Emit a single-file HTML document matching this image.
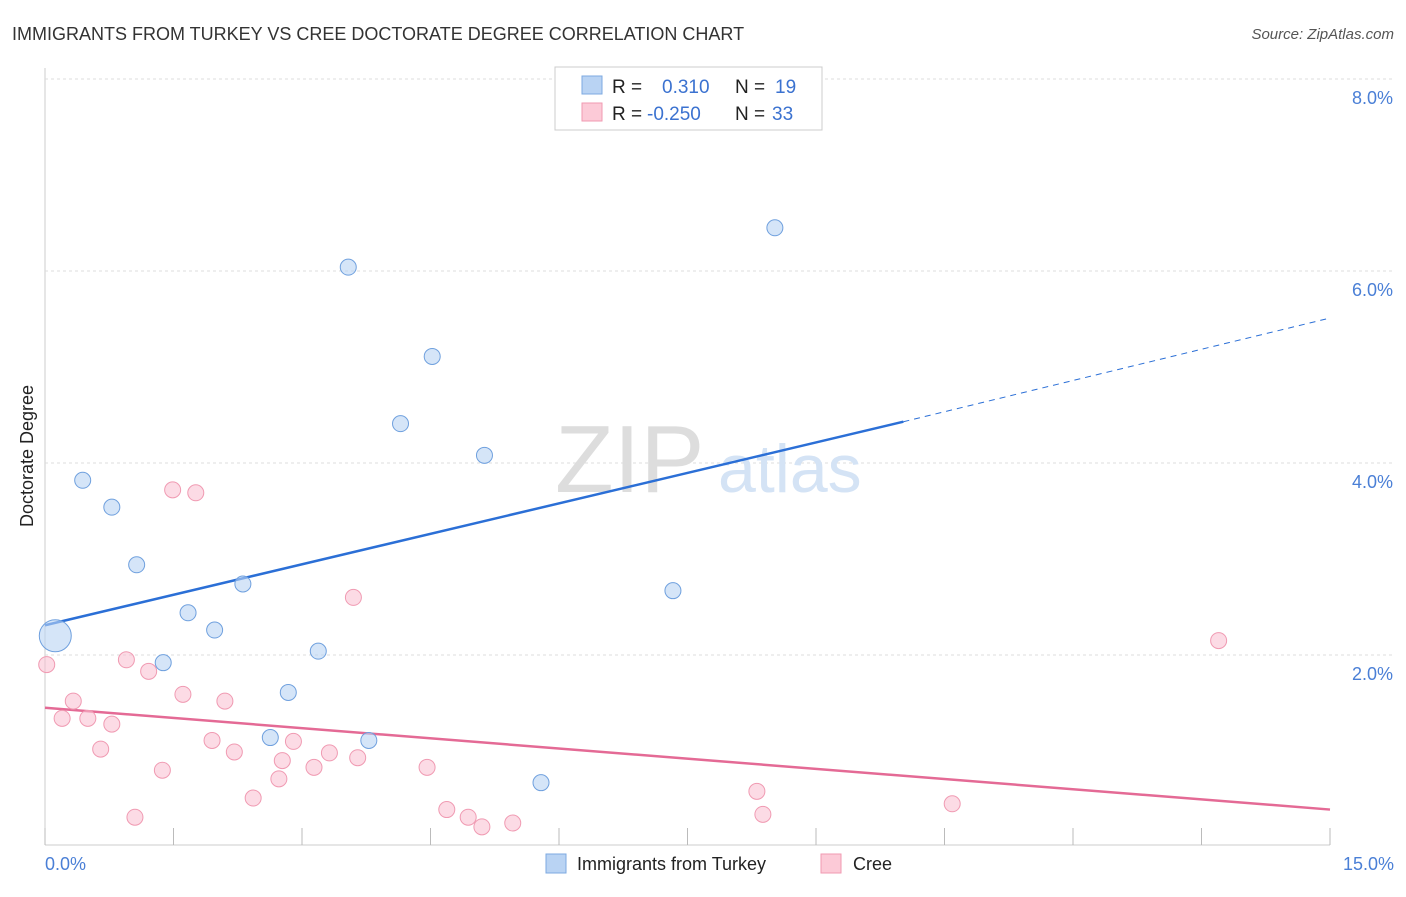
<!DOCTYPE html>
<html><head><meta charset="utf-8">
<style>
body{margin:0;background:#fff;font-family:"Liberation Sans",sans-serif;}
svg text{font-family:"Liberation Sans",sans-serif;}
</style></head>
<body>
<svg width="1406" height="892" viewBox="0 0 1406 892">
<text x="12" y="40" font-size="18" fill="#333">IMMIGRANTS FROM TURKEY VS CREE DOCTORATE DEGREE CORRELATION CHART</text>
<text x="1394" y="39" font-size="15" fill="#555" font-style="italic" text-anchor="end">Source: ZipAtlas.com</text>
<g id="grid"></g>
<text x="555" y="492" font-size="96" fill="#ddd" font-family="Liberation Serif">ZIP</text>
<text x="718" y="492" font-size="68" fill="#d4e3f5">atlas</text>
<g id="trend"></g>
<g id="pts"></g>
<text transform="translate(33,456) rotate(-90)" font-size="18" fill="#222" text-anchor="middle">Doctorate Degree</text>
<text x="45" y="870" font-size="18" fill="#4a7fd6">0.0%</text>
<text x="1394" y="870" font-size="18" fill="#4a7fd6" text-anchor="end">15.0%</text>
<g>
<rect x="555" y="67" width="267" height="63" fill="#fff" stroke="#ccc"/>
<rect x="582" y="76" width="20" height="18" fill="#b9d3f3" stroke="#7da9e0"/>
<rect x="582" y="103" width="20" height="18" fill="#fccad7" stroke="#f09ab2"/>
<text x="612" y="93" font-size="19" fill="#222">R =</text>
<text x="662" y="93" font-size="19" fill="#3b72d0">0.310</text>
<text x="735" y="93" font-size="19" fill="#222">N =</text>
<text x="775" y="93" font-size="19" fill="#3b72d0">19</text>
<text x="612" y="120" font-size="19" fill="#222">R =</text>
<text x="647" y="120" font-size="19" fill="#3b72d0">-0.250</text>
<text x="735" y="120" font-size="19" fill="#222">N =</text>
<text x="772" y="120" font-size="19" fill="#3b72d0">33</text>
</g>
<g>
<rect x="546" y="854" width="20" height="19" fill="#b9d3f3" stroke="#7da9e0"/>
<text x="577" y="870" font-size="18" fill="#222">Immigrants from Turkey</text>
<rect x="821" y="854" width="20" height="19" fill="#fccad7" stroke="#f09ab2"/>
<text x="853" y="870" font-size="18" fill="#222">Cree</text>
</g>
</svg>
<script>
const yTicks=[2,4,6,8];
const xTickCount=10;
const blueX=[0.12,0.44,0.78,1.07,1.67,1.98,1.38,2.31,2.84,2.63,3.19,3.54,3.78,4.15,4.52,5.13,5.79,7.33,8.52];
const blueY=[2.20,3.82,3.54,2.94,2.44,2.26,1.92,2.74,1.61,1.14,2.04,6.04,1.11,4.41,5.11,4.08,0.67,2.67,6.45];
const blueR=[16,8,8,8,8,8,8,8,8,8,8,8,8,8,8,8,8,8,8];
const pinkX=[0.02,0.20,0.33,0.50,0.65,0.78,0.95,1.05,1.21,1.37,1.49,1.61,1.76,1.95,2.10,2.21,2.43,2.73,2.77,2.90,3.14,3.32,3.60,3.65,4.46,4.69,4.94,5.10,5.46,8.31,8.38,10.59,13.70];
const pinkY=[1.90,1.34,1.52,1.34,1.02,1.28,1.95,0.31,1.83,0.80,3.72,1.59,3.69,1.11,1.52,0.99,0.51,0.71,0.90,1.10,0.83,0.98,2.60,0.93,0.83,0.39,0.31,0.21,0.25,0.58,0.34,0.45,2.15];
const blueTrend=[0,2.31,10.02,4.43,15,5.51];
const pinkTrend=[0,1.45,15,0.39];
const X=v=>45+v/15*1285, Y=v=>847-v*96;
const NS='http://www.w3.org/2000/svg';
function mk(t,a,p){const e=document.createElementNS(NS,t);for(const k in a)e.setAttribute(k,a[k]);p.appendChild(e);return e;}
const g=document.getElementById('grid');
let ax=mk('line',{x1:45,y1:68,x2:45,y2:845,stroke:'#ccc'},g);


let bx=mk('line',{x1:45,y1:845,x2:1330,y2:845,stroke:'#ccc'},g);


for(let i=0;i<=xTickCount;i++){const x=X(i*15/xTickCount);
 const t=mk('line',{x1:x,y1:828,x2:x,y2:845,stroke:'#bbb'},g);
 
 }
yTicks.forEach(v=>{const l=mk('line',{x1:45,y1:Y(v),x2:1394,y2:Y(v),stroke:'#ddd','stroke-dasharray':'3,3'},g);
 
 
 const t=mk('text',{x:1393,y:Y(v)+25,'font-size':18,fill:'#4a7fd6','text-anchor':'end'},g);
 t.textContent=v.toFixed(1)+'%';
 
 });
const tr=document.getElementById('trend');
let l1=mk('line',{x1:X(blueTrend[0]),y1:Y(blueTrend[1]),x2:X(blueTrend[2]),y2:Y(blueTrend[3]),stroke:'#2b6fd6','stroke-width':2.5},tr);


let l2=mk('line',{x1:X(blueTrend[2]),y1:Y(blueTrend[3]),x2:X(blueTrend[4]),y2:Y(blueTrend[5]),stroke:'#2b6fd6','stroke-width':1,'stroke-dasharray':'6,5'},tr);


let l3=mk('line',{x1:X(pinkTrend[0]),y1:Y(pinkTrend[1]),x2:X(pinkTrend[2]),y2:Y(pinkTrend[3]),stroke:'#e46a95','stroke-width':2.5},tr);


const p=document.getElementById('pts');
pinkX.forEach((v,i)=>{const c=mk('circle',{cx:X(v),cy:Y(pinkY[i]),r:8,fill:'rgba(249,190,207,0.55)',stroke:'#f09ab2','stroke-width':1},p);
 
 });
blueX.forEach((v,i)=>{const c=mk('circle',{cx:X(v),cy:Y(blueY[i]),r:blueR[i],fill:'rgba(185,211,243,0.6)',stroke:'#6fa0de','stroke-width':1},p);
 
 });
</script>
</body></html>
